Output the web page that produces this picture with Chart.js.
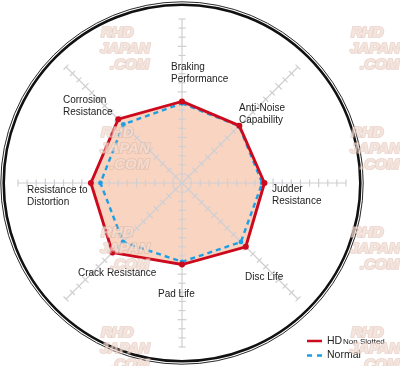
<!DOCTYPE html>
<html>
<head>
<meta charset="utf-8">
<script src="https://cdn.jsdelivr.net/npm/chart.js@4/dist/chart.umd.min.js"></script>
<style>
  html, body { margin: 0; padding: 0; background: #fff; }
  #wrap { width: 400px; height: 366px; position: relative; }
</style>
</head>
<body>
<div id="wrap"><canvas id="chart" width="400" height="366"></canvas></div>
<script>
const categories = [
  ['Braking', 'Performance'],
  ['Anti-Noise', 'Capability'],
  ['Judder', 'Resistance'],
  ['Disc Life'],
  ['Pad Life'],
  ['Crack Resistance'],
  ['Resistance to', 'Distortion'],
  ['Corrosion', 'Resistance']
]
const hdValues = [8.95, 8.9, 9.05, 9.9, 8.95, 10.8, 10.0, 9.9]
const normalValues = [8.75, 8.85, 8.8, 9.15, 8.65, 9.15, 8.95, 9.1]
const scaleMax = 18
const seriesNames = ['HD', 'Normal']

// where each category label sits, relative to the chart centre
const labelOffsets = [
  [-11, -116], [57, -75], [90, 6], [63, 94], [-24, 111], [-104, 90], [-155, 7], [-119, -83]
]

const spokePlugin = {
  id: 'spokes',
  beforeDatasetsDraw(chart) {
    const scale = chart.scales.r
    const ctx = chart.ctx
    ctx.save()
    ctx.strokeStyle = '#cfcfd3'
    ctx.lineWidth = 1.2
    categories.forEach((c, i) => {
      const end = scale.getPointPositionForValue(i, scaleMax)
      ctx.beginPath()
      ctx.moveTo(scale.xCenter, scale.yCenter)
      ctx.lineTo(end.x, end.y)
      ctx.stroke()
      const a = end.angle
      const nx = -Math.sin(a), ny = Math.cos(a)
      for (let v = 1; v <= scaleMax; v++) {
        const p = scale.getPointPositionForValue(i, v)
        const len = (v % 5 === 0) ? 4.5 : 3.5
        ctx.beginPath()
        ctx.moveTo(p.x - nx * len, p.y - ny * len)
        ctx.lineTo(p.x + nx * len, p.y + ny * len)
        ctx.stroke()
      }
    })
    ctx.restore()
  },
  afterDraw(chart) {
    const scale = chart.scales.r
    const ctx = chart.ctx
    const cx = scale.xCenter, cy = scale.yCenter
    ctx.save()
    // outer rings
    ctx.strokeStyle = '#111'
    ctx.lineWidth = 2.6
    ctx.beginPath()
    ctx.arc(cx, cy, 178.3, 0, Math.PI * 2)
    ctx.stroke()
    ctx.lineWidth = 0.9
    ctx.beginPath()
    ctx.arc(cx, cy, 181.2, 0, Math.PI * 2)
    ctx.stroke()

    // category labels
    ctx.fillStyle = '#222'
    ctx.font = '10px "Liberation Sans", Arial, sans-serif'
    ctx.textBaseline = 'middle'
    ctx.textAlign = 'left'
    categories.forEach((lines, i) => {
      const [dx, dy] = labelOffsets[i]
      lines.forEach((t, k) => ctx.fillText(t, cx + dx, cy + dy + k * 12.3))
    })

    // legend
    const lx = 307, ly = 341
    ctx.lineWidth = 2.5
    ctx.strokeStyle = '#cc0a1e'
    ctx.beginPath(); ctx.moveTo(lx, ly); ctx.lineTo(lx + 15, ly); ctx.stroke()
    ctx.strokeStyle = '#1f9fe3'
    ctx.setLineDash([5, 5])
    ctx.beginPath(); ctx.moveTo(lx, ly + 14.5); ctx.lineTo(lx + 16, ly + 14.5); ctx.stroke()
    ctx.setLineDash([])
    ctx.fillStyle = '#222'
    ctx.font = '10.5px "Liberation Sans", Arial, sans-serif'
    ctx.fillText(seriesNames[0], lx + 20, ly)
    ctx.fillText(seriesNames[1], lx + 20, ly + 14.5)
    ctx.font = '8px "Liberation Sans", Arial, sans-serif'
    ctx.fillText('Non Slotted', lx + 36, ly + 1)

    // watermarks
    ctx.globalAlpha = 0.5
    ctx.font = 'italic bold 15px "Liberation Sans", Arial, sans-serif'
    ctx.lineJoin = 'round'
    const marks = []
    for (let row = 0; row < 4; row++) {
      marks.push([100, 33 + row * 100])
      marks.push([350, 33 + row * 100])
    }
    marks.forEach(([x, y]) => {
      [['RHD', 1], ['JAPAN', 0], ['.COM', 10]].forEach(([t, off], k) => {
        ctx.lineWidth = 2.2
        ctx.strokeStyle = '#dcb6a6'
        ctx.strokeText(t, x + off, y + k * 16)
        ctx.fillStyle = '#fbf1ec'
        ctx.fillText(t, x + off, y + k * 16)
      })
    })
    ctx.restore()
  }
}

new Chart(document.getElementById('chart').getContext('2d'), {
  type: 'radar',
  data: {
    labels: categories.map(c => c.join(' ')),
    datasets: [{
      label: seriesNames[0],
      data: hdValues,
      borderColor: '#cc0a1e',
      backgroundColor: '#f9d4c0',
      borderWidth: 2.9,
      fill: true,
      pointRadius: 3,
      pointBackgroundColor: '#cc0a1e',
      pointBorderWidth: 0,
      tension: 0
    }, {
      label: seriesNames[1],
      data: normalValues,
      borderColor: '#1f9fe3',
      borderWidth: 2.4,
      borderDash: [5, 4],
      fill: false,
      pointRadius: 2.4,
      pointBackgroundColor: '#1f9fe3',
      pointBorderWidth: 0,
      tension: 0
    }]
  },
  plugins: [spokePlugin],
  options: {
    responsive: false,
    animation: false,
    layout: { padding: { left: 18, right: 54, top: 19, bottom: 19 } },
    plugins: {
      legend: { display: false },
      tooltip: { enabled: false },
      filler: { drawTime: 'beforeDatasetsDraw' }
    },
    scales: {
      r: {
        min: 0,
        max: scaleMax,
        ticks: { display: false, stepSize: 1 },
        grid: { display: false },
        angleLines: { display: false },
        pointLabels: { display: false }
      }
    }
  }
})
</script>
</body>
</html>
